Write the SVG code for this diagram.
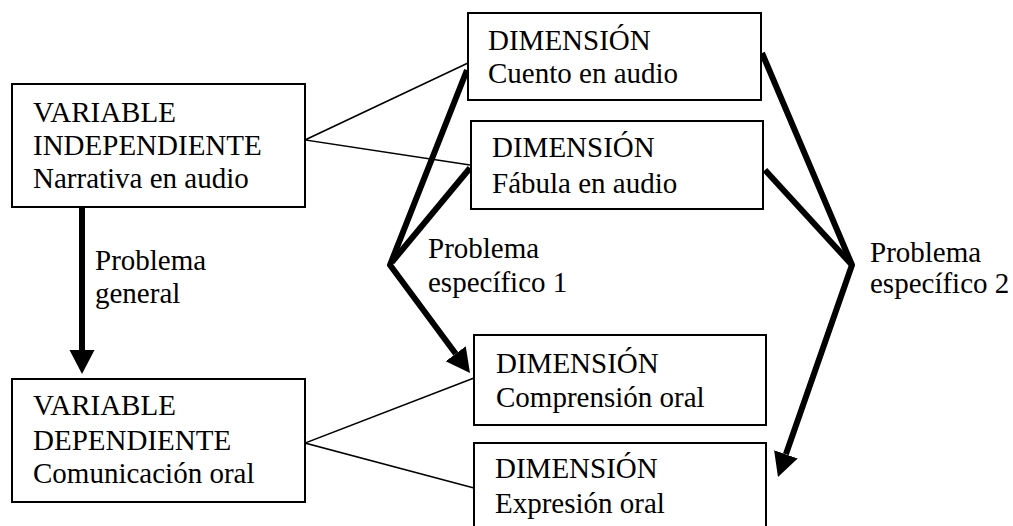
<svg xmlns="http://www.w3.org/2000/svg" width="1013" height="526" viewBox="0 0 1013 526">
<style>
.box{fill:#fff;stroke:#000;stroke-width:2}
.t{font-family:'Liberation Serif','Times New Roman',serif;font-size:29px;fill:#000}
.thin{fill:none;stroke:#000;stroke-width:1.5}
.thick{fill:none;stroke:#000;stroke-width:6;stroke-linejoin:round;stroke-linecap:butt}
</style>
<defs>
<marker id="ah" markerUnits="userSpaceOnUse" markerWidth="30" markerHeight="30" viewBox="0 0 30 30" refX="0" refY="15" orient="auto">
<path d="M0,2.5 L24,15 L0,27.5 Z" fill="#000"/>
</marker>
</defs>
<rect width="1013" height="526" fill="#fff"/>
<g id="connectors">
<polyline class="thin" points="468,63 305,140 470,165"/>
<polyline class="thin" points="474,378 305,443 474,488"/>
<path class="thick" d="M82,207 L82,350" marker-end="url(#ah)"/>
<path class="thick" d="M467,70 L390,265 L455.7,353.7" marker-end="url(#ah)"/>
<path class="thick" d="M470,168 L392,262"/>
<path class="thick" d="M762,53 L852,265 L785.9,454.3" marker-end="url(#ah)"/>
<path class="thick" d="M765,170 L852,265"/>
</g>
<g id="vi">
<rect class="box" x="12" y="84" width="293" height="123"/>
<text class="t" x="33" y="122">VARIABLE</text>
<text class="t" x="33" y="155">INDEPENDIENTE</text>
<text class="t" x="33" y="188">Narrativa en audio</text>
</g>
<g id="vd">
<rect class="box" x="12" y="379" width="293" height="123"/>
<text class="t" x="33" y="415">VARIABLE</text>
<text class="t" x="33" y="450">DEPENDIENTE</text>
<text class="t" x="33" y="483">Comunicación oral</text>
</g>
<g id="cuento">
<rect class="box" x="468" y="13" width="293" height="87"/>
<text class="t" x="488" y="50">DIMENSIÓN</text>
<text class="t" x="488" y="83">Cuento en audio</text>
</g>
<g id="fabula">
<rect class="box" x="471" y="121" width="292" height="88"/>
<text class="t" x="492" y="157">DIMENSIÓN</text>
<text class="t" x="492" y="193">Fábula en audio</text>
</g>
<g id="comprension">
<rect class="box" x="474" y="335" width="292" height="90"/>
<text class="t" x="496" y="373">DIMENSIÓN</text>
<text class="t" x="496" y="407">Comprensión oral</text>
</g>
<g id="expresion">
<rect class="box" x="474" y="443" width="292" height="90"/>
<text class="t" x="495" y="478">DIMENSIÓN</text>
<text class="t" x="495" y="513">Expresión oral</text>
</g>
<g id="labels">
<text class="t" x="95" y="270">Problema</text>
<text class="t" x="95" y="303">general</text>
<text class="t" x="428" y="258">Problema</text>
<text class="t" x="428" y="292">específico 1</text>
<text class="t" x="870" y="262">Problema</text>
<text class="t" x="870" y="293">específico 2</text>
</g>
</svg>
